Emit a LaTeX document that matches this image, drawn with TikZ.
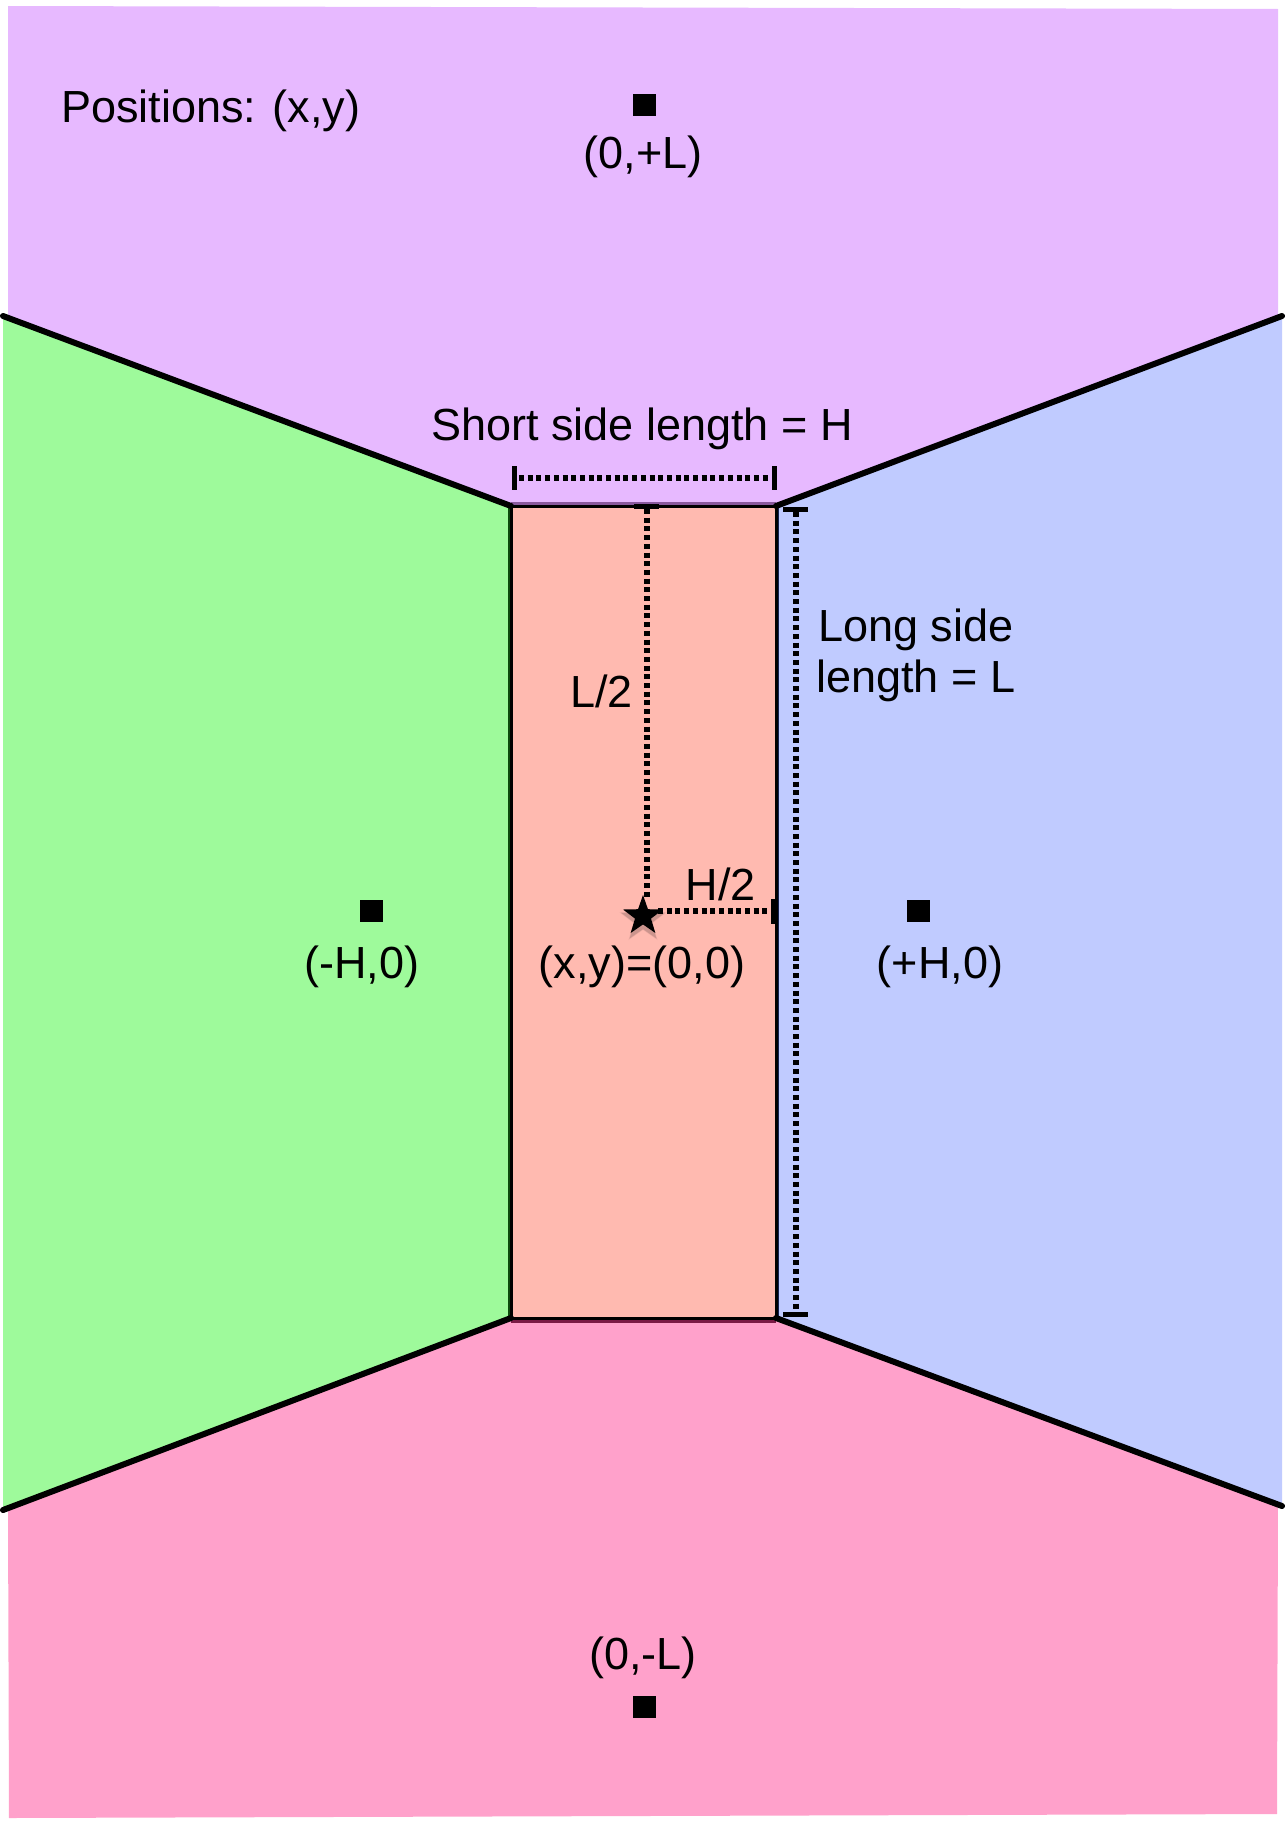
\documentclass[tikz,border=0pt]{standalone}
\usepackage{fontspec}
\setmainfont{Liberation Sans}
\usetikzlibrary{shapes.geometric,shadows}
\definecolor{purp}{HTML}{E7B9FF}
\definecolor{purpdark}{HTML}{8A5A9E}
\definecolor{grn}{HTML}{9EFA9B}
\definecolor{grndark}{HTML}{0B4A0B}
\definecolor{blu}{HTML}{C0CBFF}
\definecolor{bludark}{HTML}{14204F}
\definecolor{pnk}{HTML}{FFA1CB}
\definecolor{pnkdark}{HTML}{7A1A45}
\definecolor{salmon}{HTML}{FFBAB0}
\begin{document}
\begin{tikzpicture}[x=1pt,y=-1pt,
  lbl/.style={inner sep=0pt, font=\fontsize{45}{52}\selectfont},
  border/.style={line width=6pt, line cap=round},
  dimline/.style={line width=5.5pt, dash pattern=on 5pt off 3.7pt},
  tickline/.style={line width=5pt},
  marker/.style={fill=black, minimum width=23pt, minimum height=22pt, inner sep=0pt}]
\useasboundingbox (0,0) rectangle (1285,1823);

% corners
\coordinate (oL) at (3,316);
\coordinate (oR) at (1282,316);
\coordinate (uL) at (3,1510);
\coordinate (uR) at (1282,1506);
\coordinate (rTL) at (511,506);
\coordinate (rTR) at (776,506);
\coordinate (rBL) at (511,1318);
\coordinate (rBR) at (776,1318);

% regions
\fill[purp] (8,6) -- (1278,9) -- (1278,318) -- (rTR) -- (rTL) -- (8,318) -- cycle;
\fill[grn] (oL) -- (rTL) -- (rBL) -- (uL) -- cycle;
\fill[blu] (oR) -- (rTR) -- (rBR) -- (uR) -- cycle;
\fill[pnk] (8,1506) -- (rBL) -- (rBR) -- (1278,1504) -- (1277,1814) -- (9,1818) -- cycle;
\fill[salmon] (rTL) rectangle (rBR);

% coloured edges of neighbouring regions
\draw[purpdark, line width=3pt] (511,503) -- (776,503);
\draw[pnkdark, line width=3pt] (511,1321) -- (776,1321);
\draw[grndark, line width=2pt] (509,506) -- (509,1318);
\draw[bludark, line width=2pt] (778,506) -- (778,1318);

% rectangle and borders
\draw[line width=3pt] (rTL) rectangle (rBR);
\draw[border] (oL) -- (rTL);
\draw[border] (oR) -- (rTR);
\draw[border] (uL) -- (rBL);
\draw[border] (uR) -- (rBR);

% short side dimension
\coordinate (sA) at (514,478);
\coordinate (sB) at (774,478);
\draw[dimline] ([xshift=5pt]sA) -- ([xshift=-3pt]sB);
\draw[tickline] (514,466) -- (514,490);
\draw[tickline] (774,466) -- (774,490);

% L/2 dimension
\coordinate (lTop) at (647,506);
\coordinate (lBot) at (647,900);
\draw[tickline] (634,506) -- (659,506);
\draw[dimline] ([yshift=-3pt]lTop) -- (lBot);

% H/2 dimension
\coordinate (hA) at (658,911);
\coordinate (hB) at (773,911);
\draw[dimline] (hA) -- ([xshift=-2pt]hB);
\draw[tickline] (773,899) -- (773,924);

% long side dimension
\coordinate (gTop) at (796,509);
\coordinate (gBot) at (796,1314);
\draw[tickline] (783,509) -- (808,509);
\draw[tickline] (783,1314) -- (808,1314);
\draw[dimline] ([yshift=-3pt]gTop) -- ([yshift=3pt]gBot);

% star at origin (with soft shadow)
\coordinate (origin) at (643,916);
\coordinate (shadowc) at (643,920);
\foreach \r/\o in {25/0.05,23.5/0.07,22.5/0.09}{
  \fill[black, opacity=\o] (shadowc) +(-90:\r) -- +(-54:0.4*\r) -- +(-18:\r) -- +(18:0.4*\r) -- +(54:\r)
   -- +(90:0.4*\r) -- +(126:\r) -- +(162:0.4*\r) -- +(198:\r) -- +(234:0.4*\r) -- cycle;
}
\fill[black] (origin) +(-90:21) -- +(-54:8.4) -- +(-18:21) -- +(18:8.4) -- +(54:21)
   -- +(90:8.4) -- +(126:21) -- +(162:8.4) -- +(198:21) -- +(234:8.4) -- cycle;

% position markers
\node[marker] (mTop) at (644,105) {};
\node[marker] (mLeft) at (371,911) {};
\node[marker] (mRight) at (918,911) {};
\node[marker] (mBot) at (644,1707) {};

% labels
\node[lbl, anchor=base west] (tPos) at (61,122) {Positions: (x,y)};
\node[lbl, anchor=base] (tTop) at (643,168) {(0,+L)};
\node[lbl, anchor=base] (tShort) at (642,440) {Short side length = H};
\node[lbl, anchor=base east] (tL2) at (633,707) {L/2};
\node[lbl, anchor=base west] (tLong1) at (818,641) {Long side};
\node[lbl, anchor=base west] (tLong2) at (816,692) {length = L};
\node[lbl, anchor=base] (tH2) at (721,900) {H/2};
\node[lbl, anchor=base] (tOrig) at (642,978) {(x,y)=(0,0)};
\node[lbl, anchor=base] (tLeft) at (362,978) {(-H,0)};
\node[lbl, anchor=base] (tRight) at (940,978) {(+H,0)};
\node[lbl, anchor=base] (tBot) at (643,1669) {(0,-L)};
\end{tikzpicture}
\end{document}
